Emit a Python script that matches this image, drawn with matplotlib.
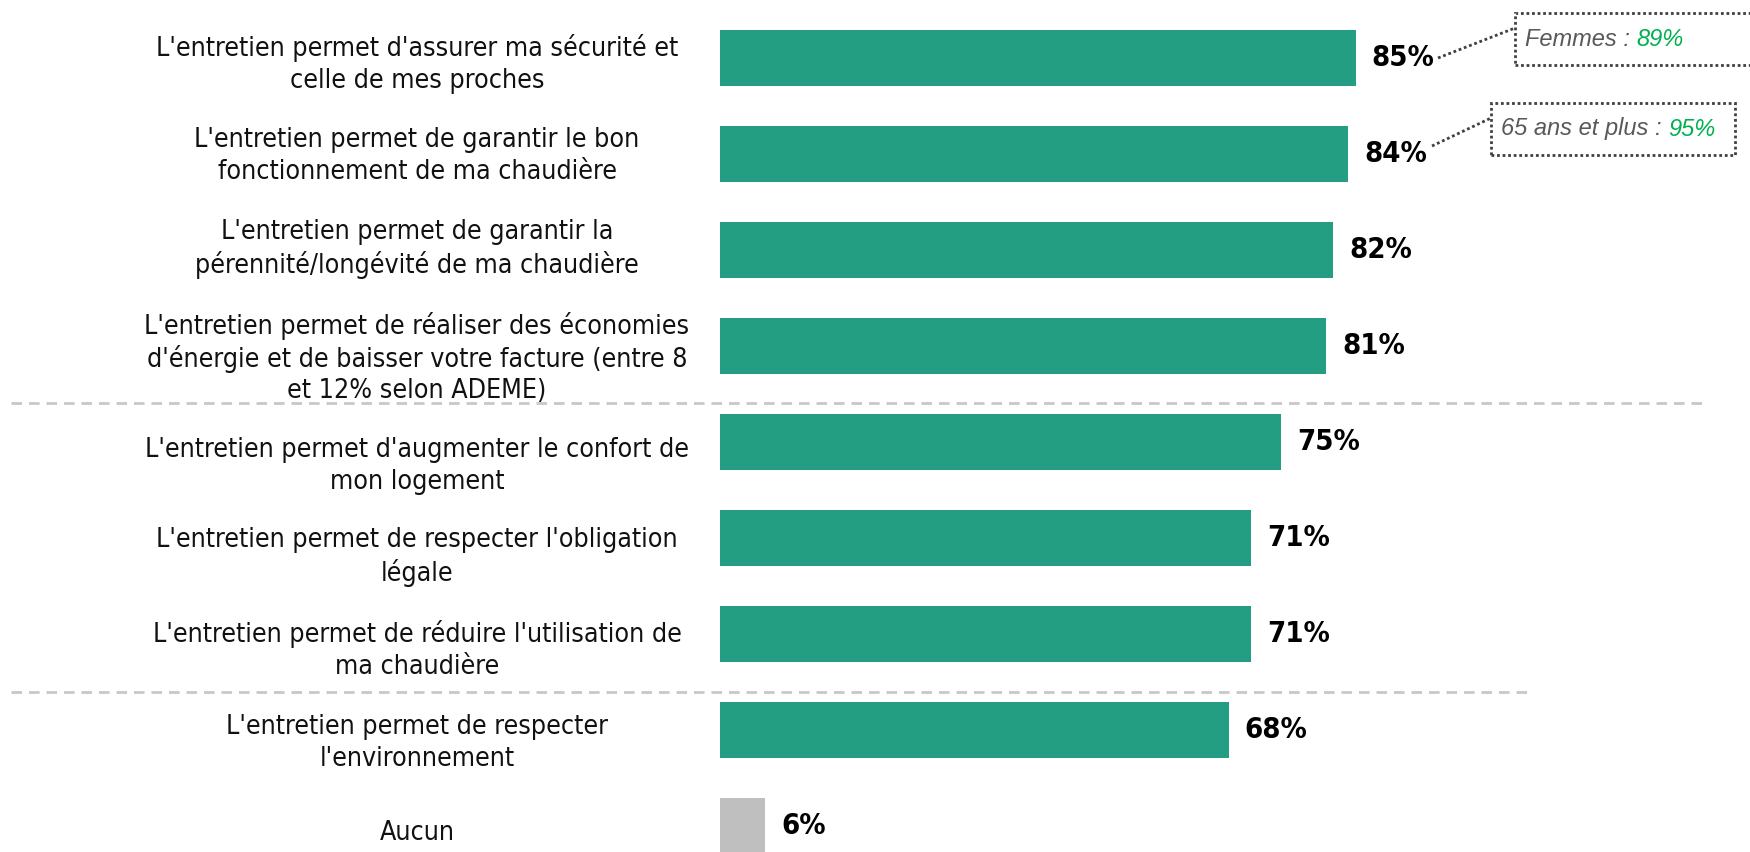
import matplotlib
matplotlib.use("Agg")
import matplotlib.pyplot as plt
from matplotlib.patches import Rectangle
from matplotlib.lines import Line2D

categories = [
    "L'entretien permet d'assurer ma sécurité et\ncelle de mes proches",
    "L'entretien permet de garantir le bon\nfonctionnement de ma chaudière",
    "L'entretien permet de garantir la\npérennité/longévité de ma chaudière",
    "L'entretien permet de réaliser des économies\nd'énergie et de baisser votre facture (entre 8\net 12% selon ADEME)",
    "L'entretien permet d'augmenter le confort de\nmon logement",
    "L'entretien permet de respecter l'obligation\nlégale",
    "L'entretien permet de réduire l'utilisation de\nma chaudière",
    "L'entretien permet de respecter\nl'environnement",
    "Aucun",
]
values = [85, 84, 82, 81, 75, 71, 71, 68, 6]
value_labels = ["85%", "84%", "82%", "81%", "75%", "71%", "71%", "68%", "6%"]
bar_colors = ["#239e83"] * 8 + ["#bfbfbf"]
callout_rows = [0, 1]
callout_prefix = ["Femmes : ", "65 ans et plus : "]
callout_value = ["89%", "95%"]

W, H = 1750, 852
fig = plt.figure(figsize=(W / 100, H / 100), dpi=100)
ax = fig.add_axes([0, 0, 1, 1])
ax.set_axis_off()

PX_PER_PCT = 7.48
X0 = 720
ROW0 = 58
STEP = 96
ax.set_xlim(-X0 / PX_PER_PCT, (W - X0) / PX_PER_PCT)
ax.set_ylim((H - ROW0) / STEP, -ROW0 / STEP)

rows = list(range(len(values)))
ax.barh(rows, values, height=56 / STEP, color=bar_colors, edgecolor="none")

# vertical nudges of the category text boxes (pixels), as placed in the original
label_nudge_px = [6, 2, -1, 12, 24, 19, 16, 13, 7]

lab_font = dict(family="DejaVu Sans", fontstretch="condensed")
label_x = (417 - X0) / PX_PER_PCT
for i, (c, v, vl) in enumerate(zip(categories, values, value_labels)):
    ax.text(label_x, i + label_nudge_px[i] / STEP, c, ha="center", va="center",
            multialignment="center", fontsize=19.2, color="#111111", linespacing=1.26,
            **lab_font)
    ax.text(v + 16 / PX_PER_PCT, i, vl, ha="left", va="center", fontsize=21,
            fontweight="bold", color="black", **lab_font)

# dashed separators
def fy(y):
    return 1 - y / H

for y, x1 in [(403, 1706), (692, 1527)]:
    fig.add_artist(Line2D([11 / W, x1 / W], [fy(y), fy(y)], transform=fig.transFigure,
                          color="#c8c8c8", lw=2, linestyle=(0, (3.8, 2.5))))

# callouts
boxes = [(1515, 13, 300, 52), (1491, 103, 244, 52)]
lines = [((1438, 58), (1515, 28)), ((1432, 146), (1491, 118))]
fig.canvas.draw()
renderer = fig.canvas.get_renderer()
dot = (0, (1, 1))
for k, r in enumerate(callout_rows):
    bx, by, bw, bh = boxes[k]
    fig.add_artist(Rectangle((bx / W, fy(by + bh)), bw / W, bh / H, transform=fig.transFigure,
                             fill=False, edgecolor="#404040", lw=2.0, linestyle=dot))
    (x1, y1), (x2, y2) = lines[k]
    fig.add_artist(Line2D([x1 / W, x2 / W], [fy(y1), fy(y2)], transform=fig.transFigure,
                          color="#404040", lw=2.0, linestyle=dot))
    t = fig.text((bx + 10) / W, fy(by + bh / 2), callout_prefix[k], ha="left", va="center",
                 fontsize=17, style="italic", color="#595959", family="Liberation Sans")
    ext = t.get_window_extent(renderer=renderer)
    fig.text(ext.x1 / W, fy(by + bh / 2), callout_value[k], ha="left", va="center",
             fontsize=17, style="italic", color="#00b050", family="Liberation Sans")

fig.savefig("out.png", dpi=100)
